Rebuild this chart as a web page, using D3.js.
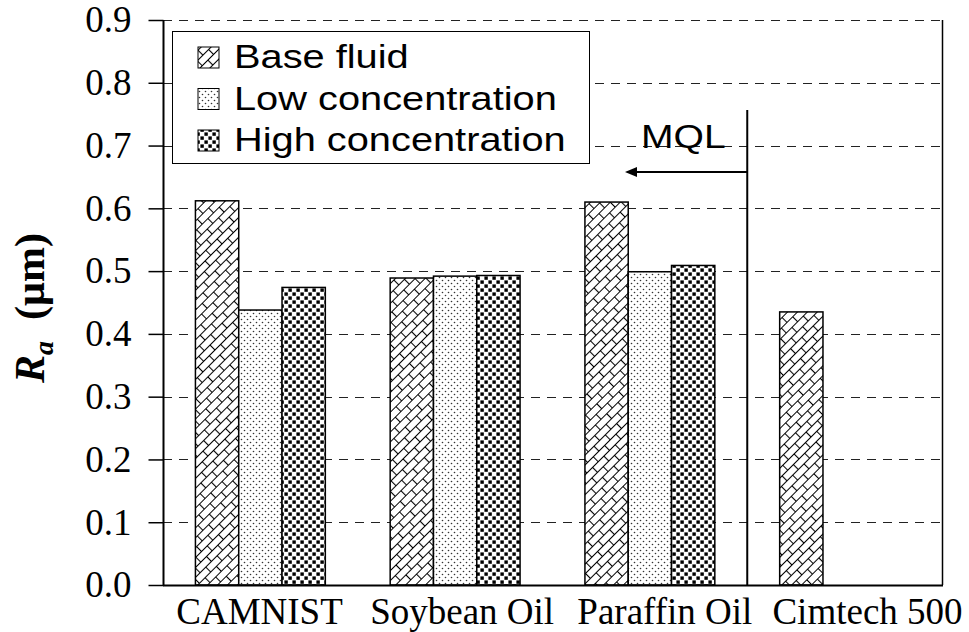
<!DOCTYPE html>
<html>
<head>
<meta charset="utf-8">
<script src="https://cdn.jsdelivr.net/npm/d3@7"></script>
<style>
body { margin: 0; background: #fff; }
svg { display: block; }
.serif { font-family: 'Liberation Serif', 'Times New Roman', Times, serif; }
.sans { font-family: 'Liberation Sans', Arial, Helvetica, sans-serif; }
</style>
</head>
<body>
<svg></svg>
<script>
var categories = ['CAMNIST', 'Soybean Oil', 'Paraffin Oil', 'Cimtech 500'];
var seriesNames = ['Base fluid', 'Low concentration', 'High concentration'];
var baseFluid = [0.612, 0.489, 0.610, 0.435];
var lowConc = [0.438, 0.492, 0.499, null];
var highConc = [0.474, 0.493, 0.509, null];
var yTicks = [0.0, 0.1, 0.2, 0.3, 0.4, 0.5, 0.6, 0.7, 0.8, 0.9];

var WIDTH = 969;
var HEIGHT = 632;
var LEFT = 163, RIGHT = 942, TOP = 20, BOTTOM = 585;

var svg = d3.select('svg')
  .attr('width', WIDTH)
  .attr('height', HEIGHT);

var yScale = d3.scaleLinear().domain([0, 0.9]).range([BOTTOM, TOP]);

var x0 = d3.scaleBand()
  .domain(categories)
  .range([LEFT, RIGHT])
  .paddingInner(0.333)
  .paddingOuter(0.1665);

var x1 = d3.scaleBand()
  .domain(seriesNames)
  .range([0, x0.bandwidth()]);

// category labels sit a little off the band centres in the original
var labelScale = d3.scalePoint().domain(categories).range([259.5, 867.5]);

// fill patterns
var defs = svg.append('defs');

// diagonal brick: drawn flat, then turned 45 degrees
var brick = defs.append('pattern')
  .attr('id', 'brick')
  .attr('patternUnits', 'userSpaceOnUse')
  .attr('width', 16).attr('height', 14)
  .attr('patternTransform', 'rotate(-45)');
brick.append('rect').attr('width', 16).attr('height', 14).attr('fill', '#fff');
brick.append('path')
  .attr('d', 'M-1,0.5H17M-1,7.5H17M0.5,0.5V7.5M8.5,7.5V14.5')
  .attr('stroke', '#000')
  .attr('stroke-width', 1.1)
  .attr('fill', 'none');

var low = defs.append('pattern')
  .attr('id', 'lowdots')
  .attr('patternUnits', 'userSpaceOnUse')
  .attr('width', 6).attr('height', 6);
low.append('rect').attr('width', 6).attr('height', 6).attr('fill', '#fff');
low.append('circle').attr('cx', 1.5).attr('cy', 1.5).attr('r', 0.8).attr('fill', '#333');
low.append('circle').attr('cx', 4.5).attr('cy', 4.5).attr('r', 0.8).attr('fill', '#333');

var high = defs.append('pattern')
  .attr('id', 'highdots')
  .attr('patternUnits', 'userSpaceOnUse')
  .attr('width', 8).attr('height', 8);
high.append('rect').attr('width', 8).attr('height', 8).attr('fill', '#fff');
high.append('rect').attr('x', 0.4).attr('y', 0.4).attr('width', 3.4).attr('height', 3.4).attr('fill', '#000');
high.append('rect').attr('x', 4.4).attr('y', 4.4).attr('width', 3.4).attr('height', 3.4).attr('fill', '#000');

var fills = {
  'Base fluid': 'url(#brick)',
  'Low concentration': 'url(#lowdots)',
  'High concentration': 'url(#highdots)'
};
var seriesValues = {
  'Base fluid': baseFluid,
  'Low concentration': lowConc,
  'High concentration': highConc
};

// dashed gridlines
svg.append('g')
  .selectAll('line')
  .data(yTicks.slice(1))
  .enter()
  .append('line')
  .attr('x1', LEFT).attr('x2', RIGHT)
  .attr('y1', function(d){ return Math.round(yScale(d)) + 0.5; })
  .attr('y2', function(d){ return Math.round(yScale(d)) + 0.5; })
  .attr('stroke', '#222')
  .attr('stroke-width', 1)
  .attr('stroke-dasharray', '9,7');

// bars
var barData = [];
seriesNames.forEach(function(s){
  seriesValues[s].forEach(function(v, i){
    if (v != null) barData.push({ series: s, category: categories[i], value: v });
  });
});

svg.append('g')
  .selectAll('rect')
  .data(barData)
  .enter()
  .append('rect')
  .attr('x', function(d){ return x0(d.category) + x1(d.series); })
  .attr('y', function(d){ return yScale(d.value); })
  .attr('width', x1.bandwidth())
  .attr('height', function(d){ return BOTTOM - yScale(d.value); })
  .attr('fill', function(d){ return fills[d.series]; })
  .attr('stroke', '#000')
  .attr('stroke-width', 1.5);

// legend
var legend = svg.append('g');
legend.append('rect')
  .attr('x', 172.5).attr('y', 31.5)
  .attr('width', 417).attr('height', 132)
  .attr('fill', '#fff')
  .attr('stroke', '#000')
  .attr('stroke-width', 1);

var rowY = d3.scalePoint().domain(seriesNames).range([68, 151]);

var rows = legend.selectAll('g.row')
  .data(seriesNames)
  .enter()
  .append('g')
  .attr('class', 'row');

rows.append('rect')
  .attr('x', 198)
  .attr('y', function(d){ return rowY(d) - 21; })
  .attr('width', 21).attr('height', 21)
  .attr('fill', function(d){ return fills[d]; })
  .attr('stroke', '#000')
  .attr('stroke-width', 1);

rows.append('text')
  .attr('class', 'sans')
  .attr('transform', function(d){ return 'translate(234,' + rowY(d) + ') scale(1.17,1)'; })
  .attr('font-size', 34)
  .attr('fill', '#000')
  .text(function(d){ return d; });

// axes
var leftAxis = d3.axisLeft(yScale)
  .tickValues(yTicks)
  .tickSize(15)
  .tickPadding(17)
  .tickFormat(d3.format('.1f'));

var yAxisG = svg.append('g')
  .attr('id', 'y-axis')
  .attr('transform', 'translate(' + (LEFT + 0.5) + ',0)')
  .call(leftAxis);
yAxisG.attr('font-family', null).attr('font-size', null);
yAxisG.select('.domain').remove();
yAxisG.selectAll('.tick line').attr('stroke', '#000').attr('stroke-width', 1.5);
yAxisG.selectAll('.tick text')
  .attr('class', 'serif')
  .attr('font-size', 37)
  .attr('fill', '#000');

svg.append('line')
  .attr('x1', LEFT + 0.5).attr('x2', LEFT + 0.5)
  .attr('y1', TOP).attr('y2', BOTTOM)
  .attr('stroke', '#000').attr('stroke-width', 2);
svg.append('line')
  .attr('x1', LEFT).attr('x2', RIGHT + 1)
  .attr('y1', BOTTOM + 0.5).attr('y2', BOTTOM + 0.5)
  .attr('stroke', '#000').attr('stroke-width', 2);
svg.append('line')
  .attr('x1', RIGHT + 0.5).attr('x2', RIGHT + 0.5)
  .attr('y1', TOP).attr('y2', BOTTOM)
  .attr('stroke', '#000').attr('stroke-width', 1.5);

svg.append('g')
  .selectAll('text')
  .data(categories)
  .enter()
  .append('text')
  .attr('class', 'serif')
  .attr('x', function(d){ return labelScale(d); })
  .attr('y', 624)
  .attr('text-anchor', 'middle')
  .attr('font-size', 37)
  .attr('fill', '#000')
  .text(function(d){ return d; });

// y axis title
var title = svg.append('text')
  .attr('class', 'serif')
  .attr('transform', 'translate(44,308) rotate(-90)')
  .attr('text-anchor', 'middle')
  .attr('font-size', 42)
  .attr('font-weight', 'bold')
  .attr('fill', '#000');
title.append('tspan').attr('font-style', 'italic').text('R');
title.append('tspan').attr('font-style', 'italic').attr('font-size', 28).attr('dy', 9).text('a');
title.append('tspan').attr('dy', -9).text('\u00a0 (\u03bcm)');

// MQL divider and arrow
var mqlX = (x0('Paraffin Oil') + x0.bandwidth() + x0('Cimtech 500')) / 2;
var arrowY = 172, arrowTip = 625;

svg.append('line')
  .attr('x1', mqlX).attr('x2', mqlX)
  .attr('y1', 110).attr('y2', BOTTOM)
  .attr('stroke', '#000').attr('stroke-width', 2);
svg.append('line')
  .attr('x1', mqlX).attr('x2', arrowTip + 8)
  .attr('y1', arrowY).attr('y2', arrowY)
  .attr('stroke', '#000').attr('stroke-width', 2);
svg.append('path')
  .attr('d', 'M' + arrowTip + ',' + arrowY + 'l12,-5l0,10z')
  .attr('fill', '#000');
svg.append('text')
  .attr('class', 'sans')
  .attr('transform', 'translate(641,148) scale(1.15,1)')
  .attr('font-size', 34)
  .attr('fill', '#000')
  .text('MQL');
</script>
</body>
</html>
